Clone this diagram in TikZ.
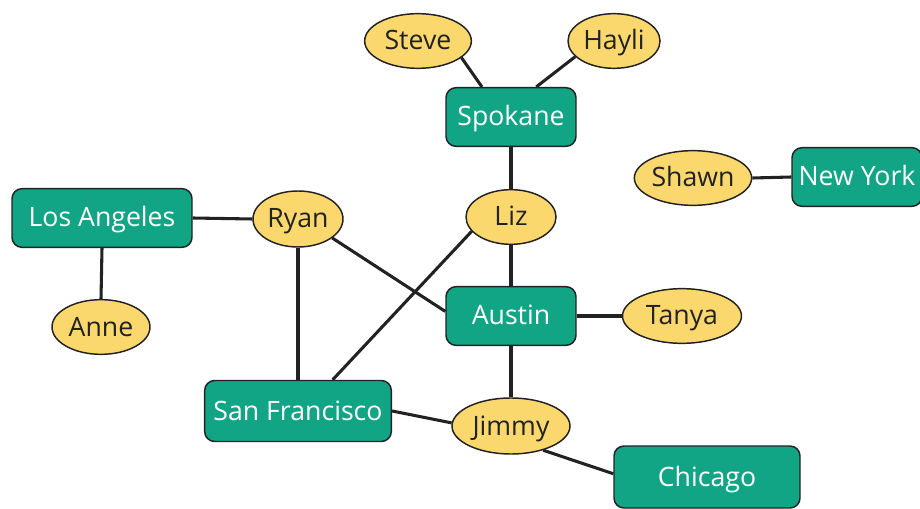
\documentclass[tikz,border=0pt]{standalone}
\usepackage{fontspec}
\setmainfont{Open Sans}
\usepackage{tikz}
\usetikzlibrary{shapes.geometric}
\definecolor{cityg}{RGB}{18,165,133}
\definecolor{persy}{RGB}{250,216,110}
\definecolor{edgek}{RGB}{34,34,34}
\tikzset{city/.style={rectangle, rounded corners=7.5pt, fill=cityg, draw=edgek, line width=1.1pt, text=white, minimum height=44pt, inner sep=0pt, text height=14.5pt, text depth=1pt},
         person/.style={ellipse, fill=persy, draw=edgek, line width=1.1pt, text=edgek, minimum height=41pt, inner sep=0pt, text height=14.5pt, text depth=1pt},
         link/.style={edgek, line width=2.3pt}}

\begin{document}
\begin{tikzpicture}[x=0.75pt, y=-0.75pt, font=\fontsize{20}{24}\selectfont]
\useasboundingbox (0,0) rectangle (920,509);
% cities
\node[city, minimum width=135pt] (losangeles) at (102,218) {Los Angeles};
\node[city, minimum width=97.5pt] (spokane) at (511,117) {Spokane};
\node[city, minimum width=97.5pt] (austin) at (511,316) {Austin};
\node[city, minimum width=140pt, minimum height=45.75pt] (sanfrancisco) at (298,411) {San Francisco};
\node[city, minimum width=139.5pt, minimum height=46.5pt] (chicago) at (707,477) {Chicago};
\node[city, minimum width=97.5pt] (newyork) at (857,177) {New York};
% people
\node[person, minimum width=73.5pt] (anne) at (101,327) {Anne};
\node[person, minimum width=67.5pt, minimum height=42pt] (ryan) at (298,219) {Ryan};
\node[person, minimum width=80pt] (steve) at (418,41) {Steve};
\node[person, minimum width=69pt] (hayli) at (614,41) {Hayli};
\node[person, minimum width=67.5pt] (liz) at (511,217) {Liz};
\node[person, minimum width=87.75pt] (shawn) at (693,178) {Shawn};
\node[person, minimum width=89.25pt] (tanya) at (682,316) {Tanya};
\node[person, minimum width=88.5pt, minimum height=42pt] (jimmy) at (511,426) {Jimmy};
% links
\draw[link] (losangeles.east) -- (ryan.west);
\draw[link] (losangeles.south) -- (anne.north);
\draw[link] (ryan.south) -- (sanfrancisco.north);
\draw[link] (ryan.-29) -- (austin.176);
\draw[link] (liz.200) -- (sanfrancisco.42);
\draw[link] (steve.-21) -- (spokane.134);
\draw[link] (hayli.-158) -- (spokane.50);
\draw[link] (spokane.south) -- (liz.north);
\draw[link] (liz.south) -- (austin.north);
\draw[link] (austin.east) -- (tanya.west);
\draw[link] (austin.south) -- (jimmy.north);
\draw[link] (sanfrancisco.east) -- (jimmy.177);
\draw[link] (jimmy.-37) -- (chicago.178);
\draw[link] (shawn.east) -- (newyork.west);
\end{tikzpicture}
\end{document}
